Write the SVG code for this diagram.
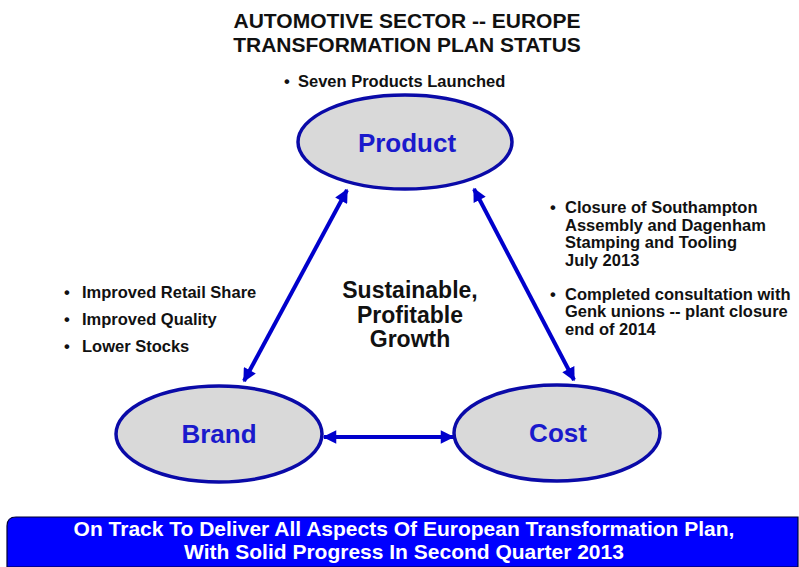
<svg xmlns="http://www.w3.org/2000/svg" width="799" height="567" viewBox="0 0 799 567">
<defs>
<style>
.t{font-family:"Liberation Sans",Arial,sans-serif;font-weight:bold;fill:#111}
.title{font-size:21px;text-anchor:middle}
.b{font-size:16.5px}
.node{fill:#d9d9d9;stroke:#0a0aa8;stroke-width:3.5}
.lbl{font-family:"Liberation Sans",Arial,sans-serif;font-weight:bold;font-size:26px;fill:#1a1acc;text-anchor:middle}
.c{stroke:#0000cc;stroke-width:4;fill:none;marker-start:url(#ah);marker-end:url(#ah)}
.ban{font-family:"Liberation Sans",Arial,sans-serif;font-weight:bold;font-size:21px;fill:#fff;text-anchor:middle}
</style>
<marker id="ah" viewBox="0 0 10 10" refX="9" refY="5" markerWidth="3.6" markerHeight="3.4" orient="auto-start-reverse" markerUnits="strokeWidth">
<path d="M0,0 L10,5 L0,10 z" fill="#0000cc"/>
</marker>
</defs>
<rect width="799" height="567" fill="#fff"/>
<g id="title">
<text class="t title" x="407" y="28">AUTOMOTIVE SECTOR -- EUROPE</text>
<text class="t title" x="407" y="52">TRANSFORMATION PLAN STATUS</text>
</g>
<g id="product-notes">
<text class="t b" x="284" y="87">•</text>
<text class="t b" x="298" y="87">Seven Products Launched</text>
</g>
<g id="brand-notes">
<text class="t b" x="64" y="298">•</text>
<text class="t b" x="82" y="298">Improved Retail Share</text>
<text class="t b" x="64" y="325">•</text>
<text class="t b" x="82" y="325">Improved Quality</text>
<text class="t b" x="64" y="352">•</text>
<text class="t b" x="82" y="352">Lower Stocks</text>
</g>
<g id="cost-notes">
<text class="t b" x="550" y="213">•</text>
<text class="t b" x="565" y="213">Closure of Southampton</text>
<text class="t b" x="565" y="231">Assembly and Dagenham</text>
<text class="t b" x="565" y="248">Stamping and Tooling</text>
<text class="t b" x="565" y="266">July 2013</text>
<text class="t b" x="550" y="300">•</text>
<text class="t b" x="565" y="300">Completed consultation with</text>
<text class="t b" x="565" y="317">Genk unions -- plant closure</text>
<text class="t b" x="565" y="335">end of 2014</text>
</g>
<g id="center">
<text class="t" font-size="23" text-anchor="middle" x="410" y="298">Sustainable,</text>
<text class="t" font-size="23" text-anchor="middle" x="410" y="323">Profitable</text>
<text class="t" font-size="23" text-anchor="middle" x="410" y="347">Growth</text>
</g>
<g id="connectors">
<line class="c" x1="244" y1="381" x2="347" y2="190"/>
<line class="c" x1="474" y1="189" x2="574" y2="380"/>
<line class="c" x1="324" y1="437" x2="453" y2="437"/>
</g>
<g id="node-product">
<ellipse class="node" cx="405" cy="142" rx="107" ry="47"/>
<text class="lbl" x="407" y="152">Product</text>
</g>
<g id="node-brand">
<ellipse class="node" cx="219" cy="434" rx="103" ry="48"/>
<text class="lbl" x="219" y="443">Brand</text>
</g>
<g id="node-cost">
<ellipse class="node" cx="557" cy="433" rx="103" ry="48"/>
<text class="lbl" x="558" y="442">Cost</text>
</g>
<g id="banner">
<path d="M16,517 H798 V567 H7 V526 Q7,517 16,517 Z" fill="#0000ff" stroke="#000033" stroke-width="1.2"/>
<text class="ban" x="404" y="536">On Track To Deliver All Aspects Of European Transformation Plan,</text>
<text class="ban" x="404" y="559">With Solid Progress In Second Quarter 2013</text>
</g>
</svg>
